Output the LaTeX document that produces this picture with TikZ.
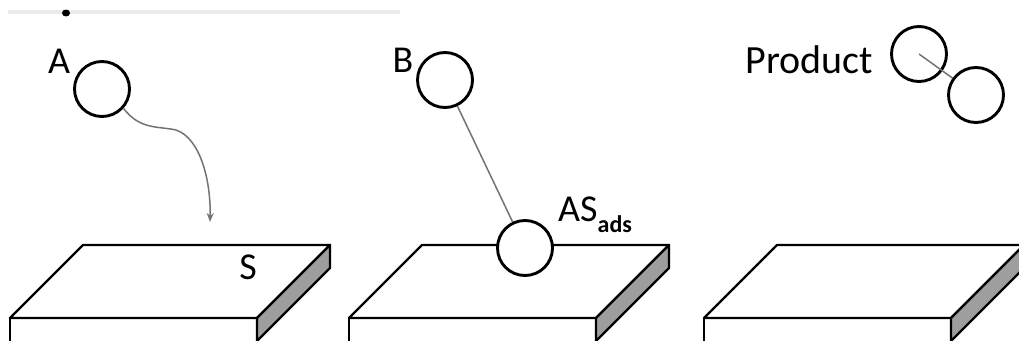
\documentclass[tikz,border=0pt]{standalone}
\usepackage{fontspec}
\setmainfont{Carlito}
\usetikzlibrary{arrows.meta}
\tikzset{
  x=1pt, y=-1pt,
  ball/.style={circle, draw=black, line width=2.9pt, minimum size=55pt, inner sep=0pt},
  lbl/.style={inner sep=0pt, font=\fontsize{38}{44}\selectfont},
  slabline/.style={line width=2.4pt, line join=round},
  link/.style={draw=black!55, line width=1.5pt},
  slab/.pic={
    \fill[white] (-73,73) -- (174,73) -- (174,100) -- (-73,100) -- cycle;
    \filldraw[slabline, fill=white] (0,0) -- (247,0) -- (174,73) -- (-73,73) -- cycle;
    \draw[slabline] (-73,73) -- (-73,100) (174,73) -- (174,100);
    \filldraw[slabline, fill=black!38] (174,73) -- (247,0) -- (247,23) -- (174,96) -- cycle;
  }
}
\begin{document}
\begin{tikzpicture}
\useasboundingbox (0,0) rectangle (1019,340);
\clip (0,0) rectangle (1019,340);
% faint top rule
\draw[black!8, line width=4pt] (8,12) -- (400,12);
\fill[black] (66,13) ellipse (4pt and 3.5pt);
% slabs
\pic at (83,245) {slab};
\pic at (422,245) {slab};
\pic at (777,245) {slab};
% panel 1
\node[ball] (A) at (102,89) {};
\node[lbl] (Alab) at (59,61) {A};
\coordinate (Aend) at (210,222);
\draw[link, -{Stealth[length=9pt,width=7pt]}] (A.-42) .. controls (140,130) and (158,126) .. (176,130)
  .. controls (200,138) and (211,180) .. (Aend);
\node[lbl] (S) at (248,267) {S};
% panel 2
\node[ball] (B) at (445,80) {};
\node[lbl] (Blab) at (403,60) {B};
\node[ball, fill=white] (AS) at (525,248) {};
\draw[link] (B) -- (AS);
\node[lbl, anchor=west] (ASlab) at (558,215) {AS\raisebox{-0.28em}{\fontsize{24}{28}\selectfont\bfseries ads}};
% panel 3
\node[ball] (P1) at (919,54) {};
\node[ball] (P2) at (976,95) {};
\draw[link] (P1.center) -- (P2);
\node[lbl, anchor=east, font=\fontsize{40}{46}\selectfont] (Plab) at (873,60) {Product};
\end{tikzpicture}
\end{document}
